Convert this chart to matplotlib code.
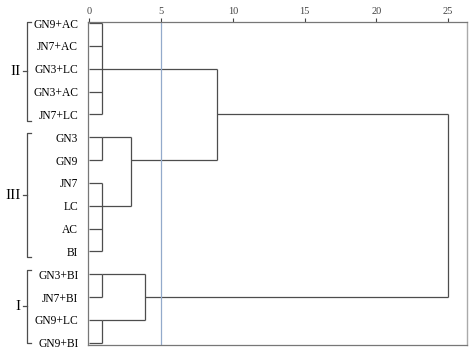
import matplotlib
matplotlib.use('Agg')
import matplotlib.pyplot as plt

plt.rcParams['font.family'] = ['Liberation Serif', 'DejaVu Serif']

# Подписи листьев (сверху вниз)
labels = ['GN9+AC', 'JN7+AC', 'GN3+LC', 'GN3+AC', 'JN7+LC',
          'GN3', 'GN9', 'JN7', 'LC', 'AC', 'BI',
          'GN3+BI', 'JN7+BI', 'GN9+LC', 'GN9+BI']

# Объединения: дети (листья 0..14, узлы 15..), высота, строка выхода
merge_children = [[0, 1, 2, 3, 4], [5, 6], [7, 8, 9, 10], [11, 12], [13, 14],
                  [16, 17], [18, 19], [15, 20], [22, 21]]
merge_height = [0.85, 0.85, 0.85, 0.85, 0.85, 2.87, 3.9, 8.9, 25]
merge_row = [2, 5, 8, 11, 13, 6, 12, 4, 8]

# Группы кластеров
group_names = ['II', 'III', 'I']
group_span = [(-0.05, 4.28), (4.82, 10.26), (10.8, 14.0)]

cut_value = 5
x_ticks = [0, 5, 10, 15, 20, 25]

fig = plt.figure(figsize=(4.74, 3.53), dpi=100)
ax = fig.add_axes([0.1857, 0.0227, 0.7993, 0.915])

line_col = '#4d4d4d'
pos = {i: (i, 0.0) for i in range(len(labels))}
n = len(labels)
for k, (ch, h, r) in enumerate(zip(merge_children, merge_height, merge_row)):
    rows = [pos[c][0] for c in ch]
    ax.plot([h, h], [min(rows), max(rows)], color=line_col, lw=0.9, solid_capstyle='butt')
    for c in ch:
        ax.plot([pos[c][1], h], [pos[c][0], pos[c][0]], color=line_col, lw=0.9,
                solid_capstyle='butt')
    pos[n + k] = (r, h)

# Линия отсечения
ax.axvline(cut_value, color='#93aacb', lw=0.9)

ax.set_xlim(-0.1, 26.3)
ax.set_ylim(14.1, -0.05)
ax.xaxis.tick_top()
ax.set_xticks(x_ticks)
ax.tick_params(axis='x', labelsize=7.5, length=3, width=0.8, pad=1, colors='#444444')
ax.set_yticks(range(n))
ax.set_yticklabels(labels, fontsize=8.3)
ax.tick_params(axis='y', length=0, pad=7)
for s in ['left', 'top', 'bottom']:
    ax.spines[s].set_color('#777777')
    ax.spines[s].set_linewidth(0.9)
ax.spines['right'].set_color('#aaaaaa')
ax.spines['right'].set_linewidth(1.0)

# Скобки групп
bx = -4.36
for name, (y0, y1) in zip(group_names, group_span):
    ax.plot([bx + 0.28, bx, bx, bx + 0.28], [y0, y0, y1, y1], color=line_col, lw=0.9,
            clip_on=False)
    ym = (y0 + y1) / 2
    ax.plot([bx, bx - 0.25], [ym, ym], color=line_col, lw=0.9, clip_on=False)
    ax.text(bx - 0.45, ym, name, fontsize=11, ha='right', va='center')

fig.savefig('out.png', dpi=100)
